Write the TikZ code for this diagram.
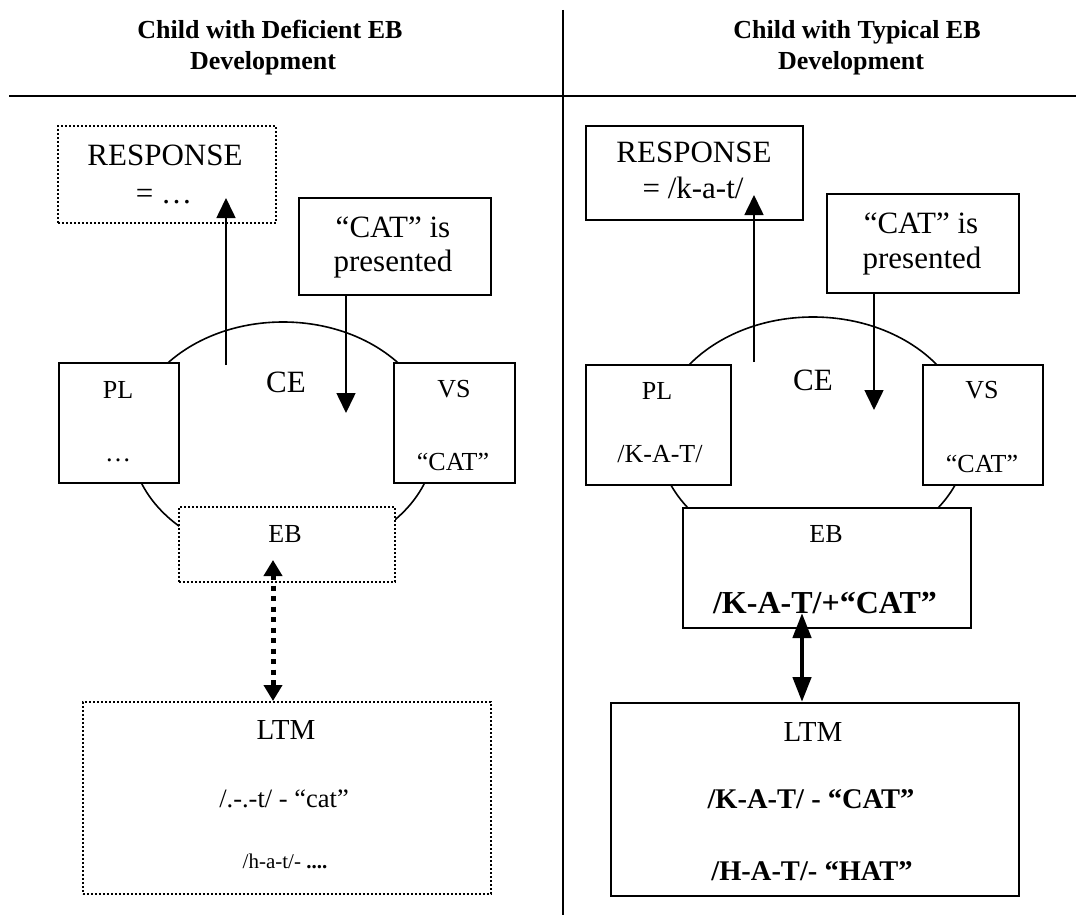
\documentclass[tikz,border=0pt]{standalone}
\usepackage{fontspec}
\setmainfont{Liberation Serif}
\usetikzlibrary{arrows.meta}
\begin{document}
\begin{tikzpicture}[x=1pt,y=-1pt,
  box/.style={draw, line width=1.6pt, fill=white, inner sep=0pt, anchor=north west},
  dbox/.style={box, dash pattern=on 2pt off 2pt},
  txt/.style={anchor=base, inner sep=0pt, font=\fontsize{#1}{#1}\selectfont},
  btxt/.style={anchor=base, inner sep=0pt, font=\fontsize{#1}{#1}\selectfont\bfseries},
  arr/.style={line width=1.6pt, -{Triangle[length=20pt,width=19pt]}},
  dotarr/.style={line width=5pt, dash pattern=on 5pt off 5.5pt, {Triangle[length=16pt,width=18pt]}-{Triangle[length=16pt,width=18pt]}},
  thkarr/.style={line width=4.5pt, {Triangle[length=25pt,width=18pt]}-{Triangle[length=25pt,width=18pt]}},
  ring/.style={line width=1.6pt}
]
\useasboundingbox (0,0) rectangle (1076,915);

% header
\draw[line width=1.2pt] (563,10) -- (563,915);
\draw[line width=2.6pt] (9,96) -- (1076,96);
\node[btxt=26] (h1a) at (270,39) {Child with Deficient EB};
\node[btxt=26] (h1b) at (263,70) {Development};
\node[btxt=26] (h2a) at (857,39) {Child with Typical EB};
\node[btxt=26] (h2b) at (851,70) {Development};

% ===== left: deficient =====
\draw[ring] (283,440) ellipse [x radius=152pt, y radius=118pt];
\node[dbox, minimum width=218pt, minimum height=97pt] (lresp) at (57,125) {};
\node[box, minimum width=192pt, minimum height=97pt] (lcat) at (298,197) {};
\node[box, minimum width=120pt, minimum height=120pt] (lpl) at (58,362) {};
\node[box, minimum width=121pt, minimum height=120pt] (lvs) at (393,362) {};
\node[dbox, minimum width=216pt, minimum height=75pt] (leb) at (178,506) {};
\node[dbox, minimum width=408pt, minimum height=192pt] (lltm) at (82,701) {};

\node[txt=31] (lrt1) at (165,165) {RESPONSE};
\node[txt=31] (lrt2) at (164,203) {= …};
\node[txt=31] (lct1) at (393,237) {“CAT” is};
\node[txt=31] (lct2) at (393,271) {presented};
\node[txt=31] (lce) at (286,392) {CE};
\node[txt=26] (lplt) at (118,398) {PL};
\node[txt=26] (lpld) at (118,461) {…};
\node[txt=26] (lvst) at (454,397) {VS};
\node[txt=26] (lvsc) at (453,470) {“CAT”};
\node[txt=26] (lebt) at (285,542) {EB};
\node[txt=29] (lltmt) at (286,739) {LTM};
\node[txt=26.5] (lltm1) at (284,807) {/.-.-t/ - “cat”};
\node[txt=21] (lltm2) at (285,868) {/h-a-t/- \textbf{....}};

\coordinate (lup0) at (226,365);
\coordinate (lup1) at (226,198);
\coordinate (ldn0) at (346,294);
\coordinate (ldn1) at (346,413);
\coordinate (ldb0) at (273,560);
\coordinate (ldb1) at (273,701);
\draw[arr] (lup0) -- (lup1);
\draw[arr] (ldn0) -- (ldn1);
\draw[dotarr] (ldb0) -- (ldb1);

% ===== right: typical =====
\draw[ring] (813,437) ellipse [x radius=155pt, y radius=120pt];
\node[box, minimum width=217pt, minimum height=94pt] (rresp) at (585,125) {};
\node[box, minimum width=192pt, minimum height=99pt] (rcat) at (826,193) {};
\node[box, minimum width=145pt, minimum height=120pt] (rpl) at (585,364) {};
\node[box, minimum width=120pt, minimum height=120pt] (rvs) at (922,364) {};
\node[box, minimum width=288pt, minimum height=120pt] (reb) at (682,507) {};
\node[box, minimum width=408pt, minimum height=193pt] (rltm) at (610,702) {};

\node[txt=31] (rrt1) at (694,162) {RESPONSE};
\node[txt=31] (rrt2) at (693,198) {= /k-a-t/};
\node[txt=31] (rct1) at (921,233) {“CAT” is};
\node[txt=31] (rct2) at (922,268) {presented};
\node[txt=31] (rce) at (813,390) {CE};
\node[txt=26] (rplt) at (657,399) {PL};
\node[txt=26] (rplk) at (660,462) {/K-A-T/};
\node[txt=26] (rvst) at (982,398) {VS};
\node[txt=26] (rvsc) at (982,472) {“CAT”};
\node[txt=26] (rebt) at (826,542) {EB};
\node[btxt=32] (rebk) at (825,613) {/K-A-T/+“CAT”};
\node[txt=29] (rltmt) at (813,741) {LTM};
\node[btxt=28.5] (rltm1) at (811,808) {/K-A-T/ - “CAT”};
\node[btxt=28.5] (rltm2) at (812,880) {/H-A-T/- “HAT”};

\coordinate (rup0) at (754,362);
\coordinate (rup1) at (754,195);
\coordinate (rdn0) at (874,292);
\coordinate (rdn1) at (874,410);
\coordinate (rdb0) at (802,613);
\coordinate (rdb1) at (802,702);
\draw[arr] (rup0) -- (rup1);
\draw[arr] (rdn0) -- (rdn1);
\draw[thkarr] (rdb0) -- (rdb1);
\end{tikzpicture}
\end{document}
